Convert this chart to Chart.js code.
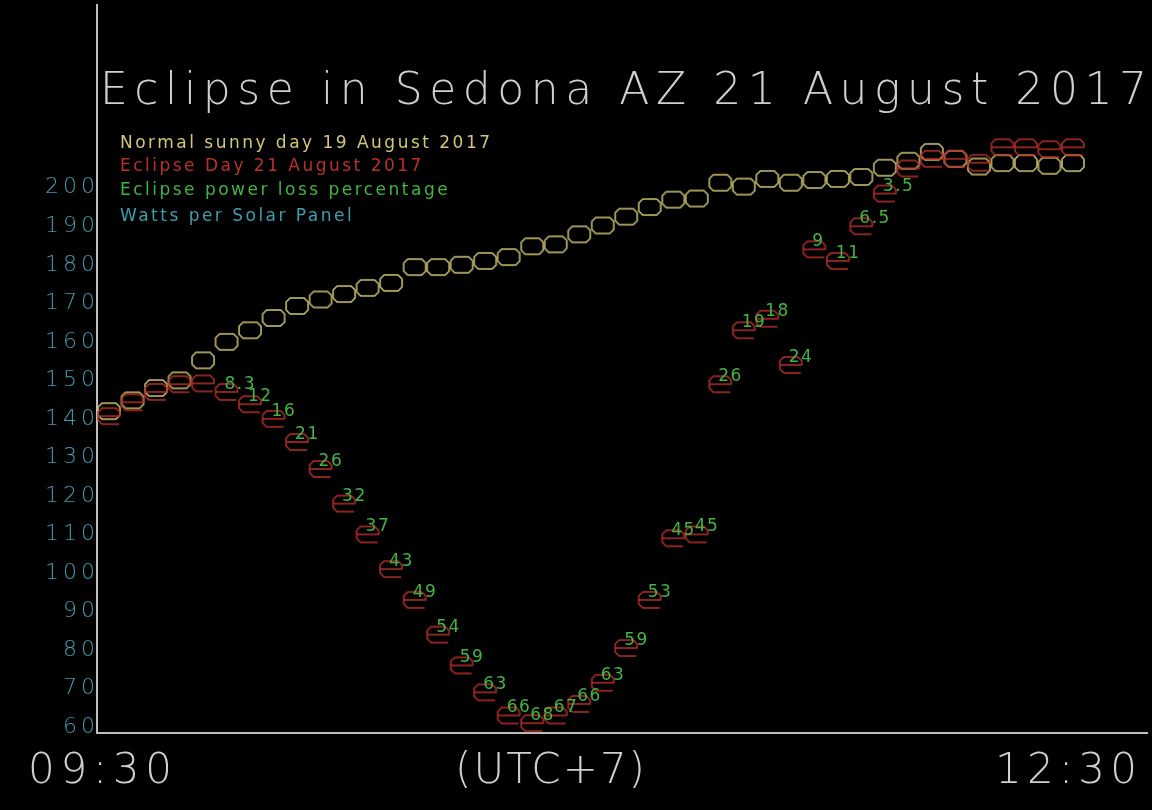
<!DOCTYPE html>
<html>
<head>
<meta charset="utf-8">
<title>Eclipse in Sedona AZ 21 August 2017</title>
<script src="https://cdn.jsdelivr.net/npm/chart.js@4.4.0/dist/chart.umd.min.js"></script>
<style>
  html, body { margin: 0; padding: 0; background: #000; }
  #wrap { width: 1152px; height: 810px; position: relative; }
</style>
</head>
<body>
<div id="wrap"><canvas id="eclipse-chart"></canvas></div>
<script>
// watts per panel, one reading per sample from 09:30 to 12:30
const normalDay = [142, 144.8, 148, 150, 155.2, 160, 163, 166.2, 169.3, 171,
  172.4, 174, 175.3, 179.4, 179.4, 180, 181, 182, 184.8, 185.3,
  187.9, 190.2, 192.5, 195, 196.9, 197.2, 201.3, 200.3, 202.3, 201.3,
  202, 202.3, 202.8, 205.2, 207, 209.3, 207.5, 205.5, 206.4, 206.4,
  205.7, 206.4];
const eclipseDay = [140.7, 144.3, 147, 149, 149.2, 147, 143.8, 140, 134, 127,
  118, 110, 101, 93, 84, 76, 69, 63, 61, 63,
  66, 71.5, 80.5, 93, 109, 110, 149, 163, 166, 154,
  184, 181, 190, 198.5, 205, 207.5, 207.5, 206.5, 210.5, 210.5,
  210, 210.5];
// power loss labels (percent), null = no label
const lossPct = [null, null, null, null, null, '8.3', '12', '16', '21', '26',
  '32', '37', '43', '49', '54', '59', '63', '66', '68', '67',
  '66', '63', '59', '53', '45', '45', '26', '19', '18', '24',
  '9', '11', '6.5', '3.5', null, null, null, null, null, null,
  null, null];
const yTicks = [60, 70, 80, 90, 100, 110, 120, 130, 140, 150, 160, 170, 180, 190, 200];

const titleText = 'Eclipse in Sedona AZ 21 August 2017';
const legendLines = ['Normal sunny day 19 August 2017', 'Eclipse Day 21 August 2017',
  'Eclipse power loss percentage', 'Watts per Solar Panel'];
const timeLabels = ['09:30', '(UTC+7)', '12:30'];

// colours
const YELLOW = '#cfc872';
const RED = '#b8302a';
const GREEN = '#42b442';
const CYAN = '#3c9fae';
const GREY = '#cfcfcf';
const legendColors = [YELLOW, RED, GREEN, CYAN];
const FONT = '"DejaVu Sans", sans-serif';

// little vector-style markers, drawn once
function makeMarker(kind, color) {
  const c = document.createElement('canvas');
  c.width = 26;
  c.height = 20;
  const g = c.getContext('2d');
  g.strokeStyle = color;
  g.lineWidth = 1.5;
  g.lineJoin = 'round';
  const l = 2, r = 24, t = 2, b = 18, m = 10, k = 4;
  g.beginPath();
  if (kind === 'box') {
    g.moveTo(l + k, t); g.lineTo(r - k, t); g.lineTo(r, t + k); g.lineTo(r, b - k);
    g.lineTo(r - k, b); g.lineTo(l + k, b); g.lineTo(l, b - k); g.lineTo(l, t + k);
    g.closePath();
  } else {
    // an "e"
    g.moveTo(l, m); g.lineTo(r, m); g.lineTo(r, t + k); g.lineTo(r - k, t);
    g.lineTo(l + k, t); g.lineTo(l, t + k); g.lineTo(l, b - k); g.lineTo(l + k, b);
    g.lineTo(r - 1, b);
  }
  g.stroke();
  return c;
}

// draw text stretched to a given width with letter spacing
function spacedText(ctx, text, x, y, font, color, width, spacing) {
  ctx.save();
  ctx.font = font;
  ctx.fillStyle = color;
  ctx.textAlign = 'left';
  ctx.textBaseline = 'alphabetic';
  ctx.letterSpacing = '0px';
  if (width) {
    const w0 = ctx.measureText(text).width;
    ctx.letterSpacing = ((width - w0) / (text.length - 1)) + 'px';
  } else if (spacing) {
    ctx.letterSpacing = spacing + 'px';
  }
  ctx.fillText(text, x, y);
  ctx.restore();
}

const decorPlugin = {
  id: 'decor',
  beforeDraw(chart) {
    // wide spacing for the tick labels
    chart.ctx.letterSpacing = '4px';
  },
  afterDatasetsDraw(chart) {
    const ctx = chart.ctx;
    const meta = chart.getDatasetMeta(1);
    meta.data.forEach((pt, i) => {
      if (lossPct[i] === null) return;
      spacedText(ctx, lossPct[i], pt.x - 2, pt.y - 3, '17px ' + FONT, GREEN, null, 1.5);
    });
  },
  afterDraw(chart) {
    const ctx = chart.ctx;
    ctx.letterSpacing = '0px';
    spacedText(ctx, titleText, 100, 104, '200 44px ' + FONT, GREY, 1047);

    const legendY = [148, 171, 195, 221];
    ctx.save();
    ctx.font = '17px ' + FONT;
    ctx.letterSpacing = '0px';
    const w0 = ctx.measureText(legendLines[0]).width;
    const sp = (370 - w0) / (legendLines[0].length - 1);
    ctx.restore();
    legendLines.forEach((txt, i) => {
      ctx.save();
      ctx.font = '17px ' + FONT;
      ctx.fillStyle = legendColors[i];
      ctx.letterSpacing = sp + 'px';
      ctx.fillText(txt, 120, legendY[i]);
      ctx.restore();
    });

    const tx = [28, 455, 995];
    const tw = [144, 190, 142];
    timeLabels.forEach((txt, i) => {
      spacedText(ctx, txt, tx[i], 783, '200 42px ' + FONT, GREY, tw[i]);
    });
  }
};

const ctx = document.getElementById('eclipse-chart').getContext('2d');
new Chart(ctx, {
  type: 'scatter',
  data: {
    datasets: [
      {
        label: legendLines[0],
        data: normalDay.map((v, i) => ({ x: i, y: v })),
        pointStyle: makeMarker('box', YELLOW),
        order: 1
      },
      {
        label: legendLines[1],
        data: eclipseDay.map((v, i) => ({ x: i, y: v })),
        pointStyle: makeMarker('e', RED),
        order: 0
      }
    ]
  },
  options: {
    responsive: true,
    maintainAspectRatio: false,
    animation: false,
    layout: { padding: 0 },
    plugins: {
      legend: { display: false },
      tooltip: { enabled: false },
      title: { display: false }
    },
    scales: {
      x: {
        type: 'linear',
        min: -0.51,
        max: 44.15,
        grid: { display: false, drawTicks: false },
        ticks: { display: false },
        border: { display: true, color: '#bdbdbd', width: 2 },
        afterFit: (s) => {
          s.height = 77;
          s.paddingLeft = 0;
          s.paddingRight = 0;
        }
      },
      y: {
        type: 'linear',
        min: 58.45,
        max: 247.44,
        grid: { display: false, drawTicks: false },
        border: { display: true, color: '#bdbdbd', width: 2 },
        ticks: {
          color: CYAN,
          padding: -2,
          font: { family: FONT, size: 22, weight: '200' }
        },
        afterBuildTicks: (s) => { s.ticks = yTicks.map((v) => ({ value: v })); },
        afterFit: (s) => {
          s.width = 97;
          s.paddingTop = 0;
          s.paddingBottom = 0;
        }
      }
    }
  },
  plugins: [decorPlugin]
});
</script>
</body>
</html>
